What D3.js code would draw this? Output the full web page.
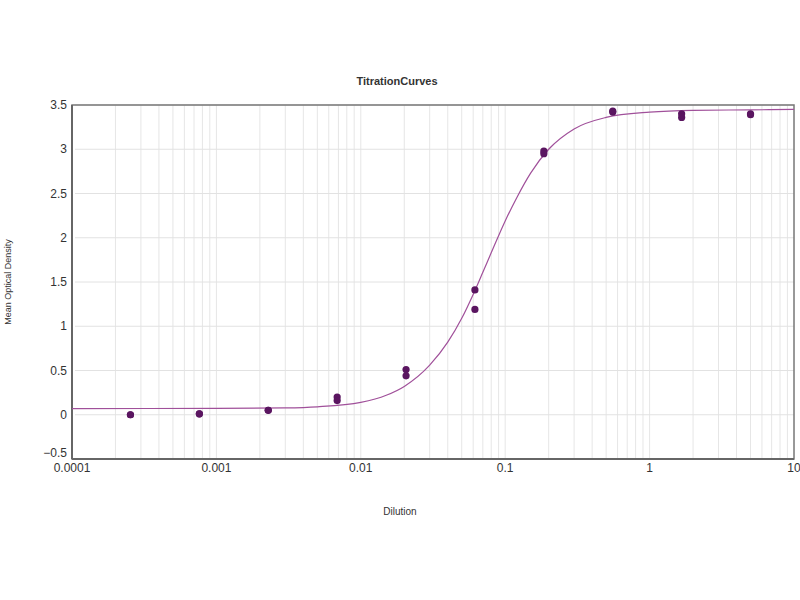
<!DOCTYPE html>
<html>
<head>
<meta charset="utf-8">
<script src="https://cdn.jsdelivr.net/npm/d3@7"></script>
<style>
  body { margin: 0; background: #fff; }
  text { font-family: "Liberation Sans", Arial, sans-serif; fill: #333; }
</style>
</head>
<body>
<div id="chart"></div>
<script>
// dilution points (threefold series) and measured optical densities, two replicates
var dilutions = [0.000254, 0.000762, 0.002286, 0.00686, 0.02058, 0.0617, 0.1852, 0.5556, 1.667, 5];
var rep1 = [0.00, 0.01, 0.05, 0.20, 0.51, 1.41, 2.98, 3.43, 3.40, 3.40];
var rep2 = [0.00, 0.01, 0.05, 0.16, 0.44, 1.19, 2.95, 3.42, 3.36, 3.39];

// fitted curve
var curveX = [0.0001, 0.001, 0.003, 0.005, 0.01, 0.015, 0.02, 0.03, 0.04, 0.05, 0.06, 0.07, 0.08, 0.1, 0.12, 0.15, 0.2, 0.3, 0.5, 1, 2, 5, 10];
var curveY = [0.07, 0.072, 0.078, 0.09, 0.14, 0.22, 0.32, 0.56, 0.82, 1.09, 1.36, 1.61, 1.83, 2.19, 2.45, 2.73, 3.00, 3.23, 3.36, 3.42, 3.44, 3.445, 3.45];

var xTicks = [0.0001, 0.001, 0.01, 0.1, 1, 10];
var xTickLabels = ["0.0001", "0.001", "0.01", "0.1", "1", "10"];
var yTicks = [-0.5, 0, 0.5, 1, 1.5, 2, 2.5, 3, 3.5];

var margin = { top: 105, right: 6, bottom: 141, left: 72 },
  width = 800 - margin.left - margin.right,
  height = 600 - margin.top - margin.bottom;

var svg = d3.select("#chart").append("svg")
  .attr("width", 800)
  .attr("height", 600);

var g = svg.append("g")
  .attr("transform", "translate(" + margin.left + "," + margin.top + ")");

var x = d3.scaleLog().domain([0.0001, 10]).range([0, width]);
var y = d3.scaleLinear().domain([-0.5, 3.5]).range([height, 0]);

// minor + major vertical grid
var minor = [];
for (var e = -4; e < 1; e++) {
  for (var m = 1; m <= 9; m++) minor.push(m * Math.pow(10, e));
}
g.append("g").selectAll("line")
  .data(minor)
  .enter().append("line")
  .attr("x1", function(d) { return x(d); })
  .attr("x2", function(d) { return x(d); })
  .attr("y1", 0)
  .attr("y2", height)
  .style("stroke", "#e6e6e6")
  .style("stroke-width", 1);

g.append("g").selectAll("line")
  .data(yTicks)
  .enter().append("line")
  .attr("x1", 3)
  .attr("x2", width)
  .attr("y1", function(d) { return y(d); })
  .attr("y2", function(d) { return y(d); })
  .style("stroke", "#e2e2e2")
  .style("stroke-width", 1);

// frame
g.append("rect")
  .attr("width", width)
  .attr("height", height)
  .style("fill", "none")
  .style("stroke", "#777")
  .style("stroke-width", 1.5);

g.append("line")
  .attr("x1", 0).attr("x2", 0)
  .attr("y1", 0).attr("y2", height)
  .style("stroke", "#666")
  .style("stroke-width", 2);
g.append("line")
  .attr("x1", 0).attr("x2", width)
  .attr("y1", height).attr("y2", height)
  .style("stroke", "#666")
  .style("stroke-width", 2);

// tick labels
g.append("g").selectAll("text")
  .data(yTicks)
  .enter().append("text")
  .attr("x", -5)
  .attr("y", function(d) { return d === -0.5 ? y(d) - 6 : y(d); })
  .attr("dy", ".35em")
  .attr("text-anchor", "end")
  .style("font-size", "12px")
  .text(function(d) { return d3.format("")(d); });

g.append("g").selectAll("text")
  .data(xTicks)
  .enter().append("text")
  .attr("x", function(d) { return x(d); })
  .attr("y", height + 13)
  .attr("text-anchor", "middle")
  .style("font-size", "12px")
  .text(function(d, i) { return xTickLabels[i]; });

// fitted curve
var line = d3.line()
  .x(function(d) { return x(d[0]); })
  .y(function(d) { return y(d[1]); })
  .curve(d3.curveMonotoneX);

g.append("path")
  .datum(d3.zip(curveX, curveY))
  .attr("d", line)
  .style("fill", "none")
  .style("stroke", "#a0509a")
  .style("stroke-width", 1.2);

// points
var pts = d3.zip(dilutions, rep1).concat(d3.zip(dilutions, rep2));
g.append("g").selectAll("circle")
  .data(pts)
  .enter().append("circle")
  .attr("cx", function(d) { return x(d[0]); })
  .attr("cy", function(d) { return y(d[1]); })
  .attr("r", 3.6)
  .style("fill", "#5a1560");

// titles
svg.append("text")
  .attr("x", 397)
  .attr("y", 85)
  .attr("text-anchor", "middle")
  .style("font-size", "11px")
  .style("font-weight", "bold")
  .text("TitrationCurves");

svg.append("text")
  .attr("x", 400)
  .attr("y", 515)
  .attr("text-anchor", "middle")
  .style("font-size", "10px")
  .text("Dilution");

svg.append("text")
  .attr("transform", "translate(11,282) rotate(-90)")
  .attr("text-anchor", "middle")
  .style("font-size", "9px")
  .text("Mean Optical Density");
</script>
</body>
</html>
